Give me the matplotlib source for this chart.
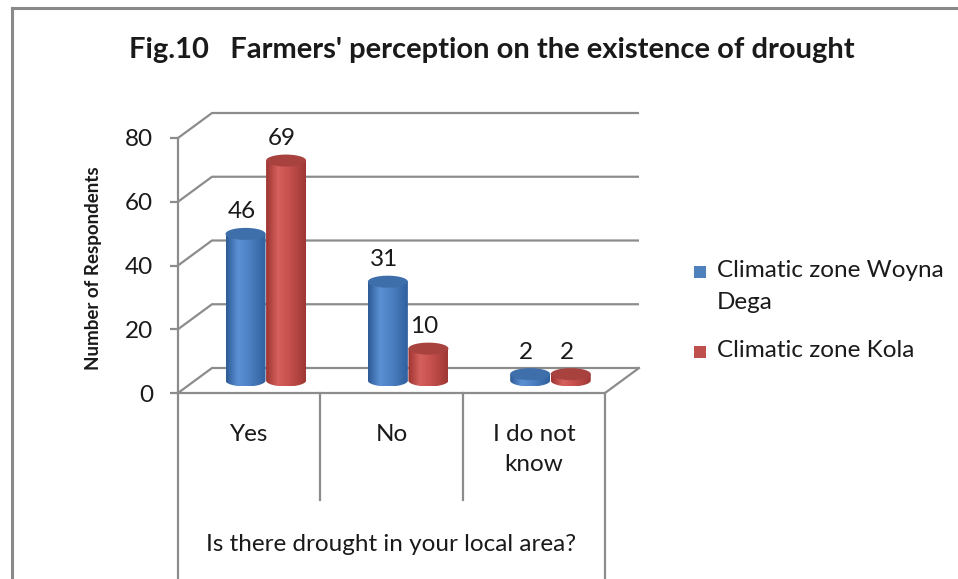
import numpy as np
import matplotlib
matplotlib.use("Agg")
import matplotlib.pyplot as plt
from matplotlib.patches import Polygon, Rectangle
from matplotlib.lines import Line2D
from matplotlib.colors import LinearSegmentedColormap

plt.rcParams['font.family'] = ['Lato', 'DejaVu Sans']

# ---- data ----
categories = ["Yes", "No", "I do not\nknow"]
series_names = ["Climatic zone Woyna\nDega", "Climatic zone Kola"]
woyna_dega = [46, 31, 2]
kola = [69, 10, 2]
y_ticks = [0, 20, 40, 60, 80]
title = "Fig.10   Farmers' perception on the existence of drought"
x_title = "Is there drought in your local area?"
y_title = "Number of Respondents"

W, H = 958, 579
fig = plt.figure(figsize=(W / 100, H / 100), dpi=100)
fig.patch.set_facecolor("white")

def fx(px):
    return px / W

def fy(py):
    return 1 - py / H

# front plane of the 3D box
X0, X1, Y0, Y80 = 178, 605, 393, 138
ax = fig.add_axes([fx(X0), fy(Y0), fx(X1) - fx(X0), fy(Y80) - fy(Y0)])
ax.set_facecolor("none")
ax.set_xlim(0, 3)
ax.set_ylim(0, 80)

px_x = (X1 - X0) / 3.0
px_y = (Y0 - Y80) / 80.0
DX = 34 / px_x      # depth offset (data units)
DY = 25 / px_y

grid_c = "#8c8c8c"
lw = 1.6
txt_c = "#1a1a1a"
fs = 17.5

for s in ["top", "right", "bottom"]:
    ax.spines[s].set_visible(False)
ax.spines["left"].set_color(grid_c)
ax.spines["left"].set_linewidth(lw)
ax.set_xticks([])
ax.set_yticks(y_ticks)
ax.tick_params(axis="y", direction="out", length=6, width=lw, color=grid_c,
               labelsize=fs, labelcolor=txt_c, pad=12)

# back wall gridlines and side diagonals
for v in y_ticks:
    ax.plot([0, DX, 3 + DX], [v, v + DY, v + DY], color=grid_c, lw=lw,
            clip_on=False, zorder=1, solid_capstyle="butt")
# floor front edge and right diagonal
ax.plot([0, 3, 3 + DX], [0, 0, DY], color=grid_c, lw=lw, clip_on=False, zorder=1)

# category table below the floor
for i in range(4):
    bottom = -70 if i in (0, 3) else -33.6
    ax.plot([i, i], [0, bottom], color=grid_c, lw=lw, clip_on=False, zorder=1)
for i, c in enumerate(categories):
    ax.text(i + 0.5, -9.8, c, ha="center", va="top", fontsize=fs,
            color=txt_c, linespacing=1.5, clip_on=False)
ax.text(1.5, -47.5, x_title, ha="center", va="center", fontsize=fs,
        color=txt_c, clip_on=False)

# cylinders
blue_cmap = LinearSegmentedColormap.from_list(
    "b", [(0, "#2c5a94"), (0.3, "#5b90d4"), (0.55, "#4f83c6"), (1, "#30609c")])
red_cmap = LinearSegmentedColormap.from_list(
    "r", [(0, "#9c3431"), (0.3, "#d5605c"), (0.55, "#c8524f"), (1, "#9e3734")])
top_colors = ["#3f6faa", "#a8423f"]
cmaps = [blue_cmap, red_cmap]

half_w = 20 / px_x
half_h = 6 / px_y
offsets = [-0.145, 0.14]
base = DY / 2
grad = np.linspace(0, 1, 256).reshape(1, -1)
arc = np.linspace(0, -np.pi, 60)
ring = np.linspace(0, 2 * np.pi, 100)

for s, vals in enumerate([woyna_dega, kola]):
    for i, v in enumerate(vals):
        cx = i + 0.5 + DX / 2 + offsets[s]
        top = base + v
        # body outline: across the top, down the right side, bottom arc back
        body = np.vstack([
            [[cx - half_w, top], [cx + half_w, top]],
            np.column_stack([cx + half_w * np.cos(arc),
                             base + half_h * np.sin(arc)]),
        ])
        poly = Polygon(body, closed=True, facecolor="none", edgecolor="none")
        ax.add_patch(poly)
        im = ax.imshow(grad, cmap=cmaps[s], aspect="auto",
                       extent=[cx - half_w, cx + half_w, base - half_h, top],
                       zorder=3, interpolation="bilinear")
        im.set_clip_path(poly)
        ell = Polygon(np.column_stack([cx + half_w * np.cos(ring),
                                       top + half_h * np.sin(ring)]),
                      closed=True, facecolor=top_colors[s], edgecolor="none",
                      zorder=4)
        ax.add_patch(ell)
        ax.annotate(str(v), (cx, top + half_h), xytext=(-3, 4),
                    textcoords="offset points", ha="center", va="bottom",
                    fontsize=fs, color=txt_c, zorder=5)

ax.set_xlim(0, 3)
ax.set_ylim(0, 80)

# y-axis title
fig.text(fx(93), fy(268), y_title, rotation=90, ha="center", va="center",
         fontsize=13.5, fontweight="bold", color=txt_c)

# title
fig.text(fx(492), fy(50), title, ha="center", va="center", fontsize=21,
         fontweight="bold", color=txt_c)

# legend
leg_colors = ["#4f81bd", "#c0504d"]
leg_y = [272, 352]
for name, col, yy in zip(series_names, leg_colors, leg_y):
    fig.add_artist(Rectangle((fx(694), fy(yy + 6)), fx(12), 12 / H,
                             facecolor=col, edgecolor="none"))
    fig.text(fx(717), fy(yy - 12), name, ha="left", va="top", fontsize=fs,
             color=txt_c, linespacing=1.65)

# outer frame (top and left edges)
frame_c = "#8a8a8a"
fig.add_artist(Line2D([fx(12), 1], [fy(8), fy(8)], color=frame_c, lw=2.2))
fig.add_artist(Line2D([fx(12), fx(12)], [fy(8), 0], color=frame_c, lw=2.2))

fig.savefig("out.png", dpi=100, facecolor="white")
